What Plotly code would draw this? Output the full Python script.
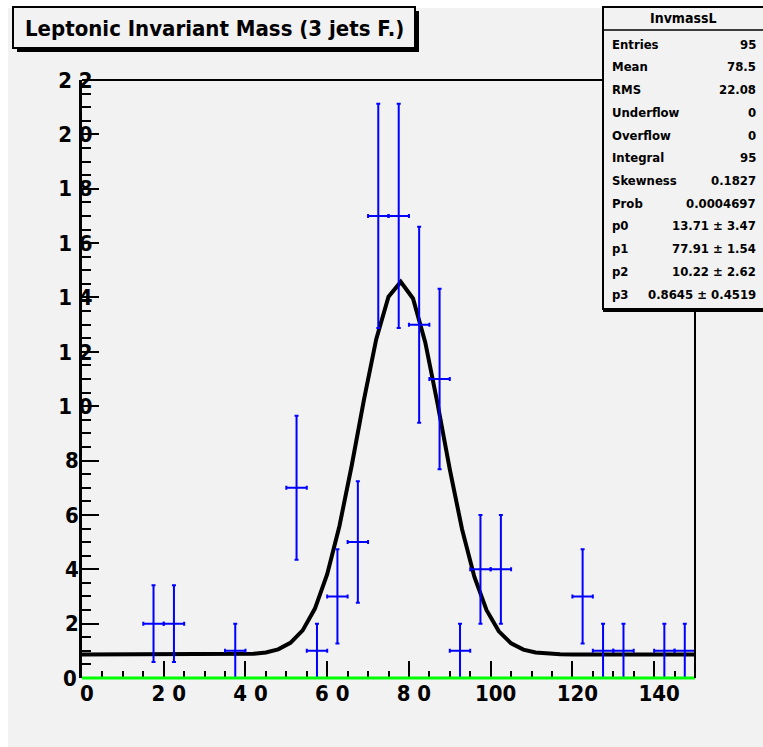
import numpy as np
import plotly.graph_objects as go

# ---------------- data ----------------
bin_width = 5.0
bin_centers = [2.5 + 5 * k for k in range(30)]
counts = [0, 0, 0, 2, 2, 0, 0, 1, 0, 0,
          7, 1, 3, 5, 17, 17, 13, 11, 1, 4,
          4, 0, 0, 0, 3, 1, 1, 0, 1, 1]

fit_params = [13.71, 77.91, 10.22, 0.8645]   # p0..p3 (gaus + const)

FS = "\u2007"  # figure space (keeps ROOT-like label alignment)
y_tickvals = [0, 2, 4, 6, 8, 10, 12, 14, 16, 18, 20, 22]
y_ticktext = ["", "2" + FS, "4" + FS, "6" + FS, "8" + FS,
              "1 0", "1 2", "1 4", "1 6", "1 8", "2 0", "2 2"]
y_zero_label = "0"
x_tickvals = [0, 20, 40, 60, 80, 100, 120, 140]
x_ticktext = ["0", "2 0", "4 0", "6 0", "8 0", "100", "120", "140"]

title_text = "Leptonic Invariant Mass (3 jets F.)"
stats_name = "InvmassL"
stats_labels = ["Entries", "Mean", "RMS", "Underflow", "Overflow", "Integral",
                "Skewness", "Prob", "p0", "p1", "p2", "p3"]
stats_values = ["95", "78.5", "22.08", "0", "0", "95", "0.1827", "0.0004697",
                "13.71 ± 3.47", "77.91 ± 1.54", "10.22 ± 2.62", "0.8645 ± 0.4519"]

# ---------------- geometry ----------------
WIDTH, HEIGHT = 763, 747
L, R, T, B = 82, 695, 80, 678
PW, PH = R - L, B - T
BG = "#f2f2f2"
FONT = "Liberation Sans Narrow, DejaVu Sans Condensed, Arial Narrow, sans-serif"


def px(xp):
    return (xp - L) / PW


def py(yp):
    return (B - yp) / PH


xs = [c for c, n in zip(bin_centers, counts) if n > 0]
ys = [n for n in counts if n > 0]
errs = [float(np.sqrt(n)) for n in ys]

p0, p1, p2, p3 = fit_params
xf = np.linspace(0, 150, 51)
yf = p0 * np.exp(-0.5 * ((xf - p1) / p2) ** 2) + p3

fig = go.Figure()
fig.add_trace(go.Scatter(
    x=xf, y=yf, mode="lines", line=dict(color="black", width=4),
    hoverinfo="skip", showlegend=False))
fig.add_trace(go.Scatter(
    x=xs, y=ys, mode="markers",
    marker=dict(color="#0000ff", size=2),
    error_y=dict(type="data", array=errs, color="#0000ff", thickness=2, width=2),
    error_x=dict(type="constant", value=bin_width / 2, color="#0000ff", thickness=2, width=2),
    showlegend=False))

shapes = []
# white outer strips
shapes.append(dict(type="rect", xref="paper", yref="paper", x0=px(0), x1=px(WIDTH), y0=py(0), y1=py(8),
                   fillcolor="white", line=dict(width=0), layer="above"))
shapes.append(dict(type="rect", xref="paper", yref="paper", x0=px(0), x1=px(8), y0=py(0), y1=py(HEIGHT),
                   fillcolor="white", line=dict(width=0), layer="above"))
# green baseline
shapes.append(dict(type="line", xref="paper", yref="paper", x0=0, x1=1, y0=0, y1=0,
                   line=dict(color="#00ff00", width=3), layer="above"))
# frame top & right
shapes.append(dict(type="line", xref="paper", yref="paper", x0=0, x1=1, y0=1, y1=1,
                   line=dict(color="black", width=2), layer="above"))
shapes.append(dict(type="line", xref="paper", yref="paper", x0=1, x1=1, y0=0, y1=1,
                   line=dict(color="black", width=2), layer="above"))
# title box with shadow
shapes.append(dict(type="rect", xref="paper", yref="paper", x0=px(17), x1=px(419), y0=py(52), y1=py(11),
                   fillcolor="black", line=dict(width=0), layer="above"))
shapes.append(dict(type="rect", xref="paper", yref="paper", x0=px(13), x1=px(415), y0=py(48), y1=py(7),
                   fillcolor=BG, line=dict(color="black", width=2), layer="above"))
# stats box with shadow
shapes.append(dict(type="rect", xref="paper", yref="paper", x0=px(603), x1=px(775), y0=py(312), y1=py(10),
                   fillcolor="black", line=dict(width=0), layer="above"))
shapes.append(dict(type="rect", xref="paper", yref="paper", x0=px(603), x1=px(775), y0=py(309), y1=py(7),
                   fillcolor=BG, line=dict(color="black", width=2), layer="above"))
shapes.append(dict(type="line", xref="paper", yref="paper", x0=px(603), x1=px(775), y0=py(30), y1=py(30),
                   line=dict(color="black", width=1.5), layer="above"))

annotations = []
annotations.append(dict(xref="paper", yref="paper", x=px(214), y=py(29), text=title_text,
                        showarrow=False, xanchor="center", yanchor="middle",
                        font=dict(family=FONT, size=22, color="black", weight="bold")))
annotations.append(dict(xref="paper", yref="y", x=px(79), y=y_tickvals[0], text=y_zero_label,
                        showarrow=False, xanchor="right", yanchor="middle",
                        font=dict(family=FONT, size=22, color="black", weight="bold")))
annotations.append(dict(xref="paper", yref="paper", x=px(683), y=py(18), text=stats_name,
                        showarrow=False, xanchor="center", yanchor="middle",
                        font=dict(family=FONT, size=14, color="black", weight="bold")))
for k, (lab, val) in enumerate(zip(stats_labels, stats_values)):
    yc = 44 + 22.75 * k
    annotations.append(dict(xref="paper", yref="paper", x=px(610), y=py(yc), text=lab,
                            showarrow=False, xanchor="left", yanchor="middle",
                            font=dict(family=FONT, size=13, color="black", weight="bold")))
    annotations.append(dict(xref="paper", yref="paper", x=px(758), y=py(yc), text=val,
                            showarrow=False, xanchor="right", yanchor="middle",
                            font=dict(family=FONT, size=13, color="black", weight="bold")))

fig.update_layout(
    width=WIDTH, height=HEIGHT,
    margin=dict(l=L, r=WIDTH - R, t=T, b=HEIGHT - B, pad=0),
    paper_bgcolor=BG, plot_bgcolor=BG,
    shapes=shapes, annotations=annotations,
    showlegend=False,
    font=dict(family=FONT, color="black"),
)
fig.update_xaxes(
    range=[0, 150], showgrid=False, zeroline=False, showline=False,
    tickmode="array", tickvals=x_tickvals, ticktext=x_ticktext,
    ticks="inside", ticklen=17, tickwidth=2, tickcolor="black",
    minor=dict(dtick=5, ticks="inside", ticklen=7, tickwidth=2, tickcolor="black"),
    tickfont=dict(family=FONT, size=22, color="black", weight="bold"),
    ticklabelshift=5,
)
fig.update_yaxes(
    range=[0, 22], showgrid=False, zeroline=False, showline=True, linewidth=3, linecolor="black",
    tickmode="array", tickvals=y_tickvals, ticktext=y_ticktext,
    ticks="inside", ticklen=17, tickwidth=2, tickcolor="black",
    minor=dict(dtick=0.5, ticks="inside", ticklen=9, tickwidth=2, tickcolor="black"),
    tickfont=dict(family=FONT, size=22, color="black", weight="bold"),
    ticklabelstandoff=-18,
)

fig.write_html("out.html")
